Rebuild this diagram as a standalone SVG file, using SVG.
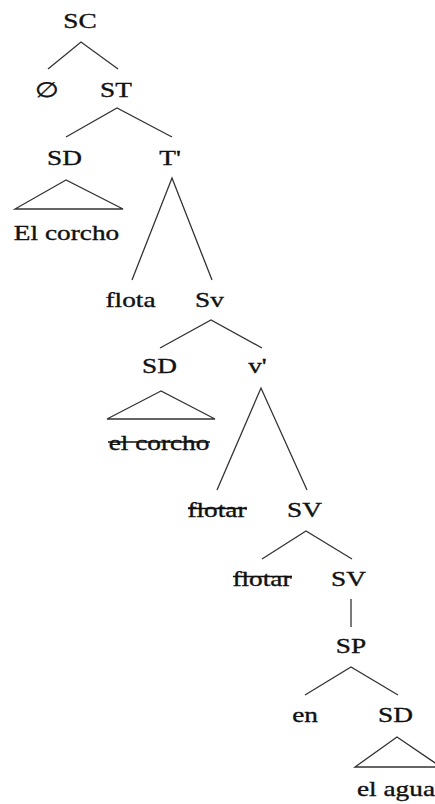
<svg xmlns="http://www.w3.org/2000/svg" width="435" height="804" viewBox="0 0 435 804">
<style>
text{font-family:"Liberation Serif","Times New Roman",serif;font-size:21px;fill:#111;stroke:#111;stroke-width:0.35;text-anchor:middle}
line,polygon,polyline{stroke:#333;stroke-width:1.3;fill:none}
.strike{stroke:#111;stroke-width:1.4}
</style>
<rect width="435" height="804" fill="#fff"/>
<g id="connectors">
<polyline points="48,69 81,42 118,69"/>
<polyline points="66,137 117,108 172,137"/>
<polygon points="66,180 15,209 123,209"/>
<polyline points="132,280 172,178 212,280"/>
<polyline points="160,348 211,320 262,348"/>
<polygon points="161,391 107,419 215,419"/>
<polyline points="217,490 261,388 307,490"/>
<polyline points="262,559 306,531 352,559"/>
<line x1="351" y1="599" x2="351" y2="627"/>
<polyline points="305,695 351,667 398,695"/>
<polygon points="397,737 355,767 441,767"/>
</g>
<g id="n-SC"><text transform="matrix(1.3 0 0 1 80 28)">SC</text></g>
<g id="n-null"><text transform="matrix(1.3 0 0 1 47 97)">∅</text></g>
<g id="n-ST"><text transform="matrix(1.3 0 0 1 116 97)">ST</text></g>
<g id="n-SD1"><text transform="matrix(1.3 0 0 1 64.5 165)">SD</text></g>
<g id="n-Tbar"><text transform="matrix(1.3 0 0 1 170 165)">T'</text></g>
<g id="n-elcorcho1"><text transform="matrix(1.3 0 0 1 66.5 240)">El corcho</text></g>
<g id="n-flota"><text transform="matrix(1.3 0 0 1 130.5 307)">flota</text></g>
<g id="n-Sv"><text transform="matrix(1.3 0 0 1 209.5 307)">Sv</text></g>
<g id="n-SD2"><text transform="matrix(1.3 0 0 1 159.5 373)">SD</text></g>
<g id="n-vbar"><text transform="matrix(1.3 0 0 1 257.5 373)">v'</text></g>
<g id="n-elcorcho2"><text transform="matrix(1.3 0 0 1 159 450)">el corcho</text><line class="strike" x1="108" y1="442" x2="210" y2="442"/></g>
<g id="n-flotar1"><text transform="matrix(1.3 0 0 1 217 517)">flotar</text><line class="strike" x1="188" y1="508.5" x2="247" y2="508.5"/></g>
<g id="n-SV1"><text transform="matrix(1.3 0 0 1 304.5 517)">SV</text></g>
<g id="n-flotar2"><text transform="matrix(1.3 0 0 1 262 586)">flotar</text><line class="strike" x1="233" y1="576.5" x2="292" y2="576.5"/></g>
<g id="n-SV2"><text transform="matrix(1.3 0 0 1 348.5 586)">SV</text></g>
<g id="n-SP"><text transform="matrix(1.3 0 0 1 351 653)">SP</text></g>
<g id="n-en"><text transform="matrix(1.3 0 0 1 305 722)">en</text></g>
<g id="n-SD3"><text transform="matrix(1.3 0 0 1 395.5 722)">SD</text></g>
<g id="n-elagua"><text transform="matrix(1.3 0 0 1 396 796)">el agua</text></g>
</svg>
